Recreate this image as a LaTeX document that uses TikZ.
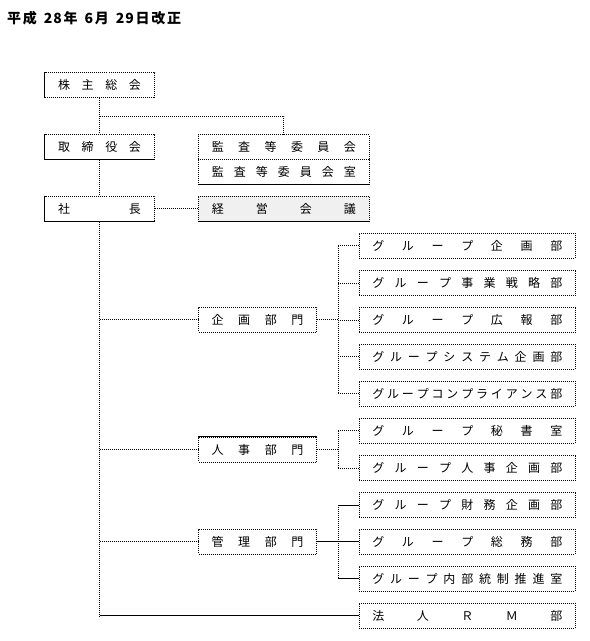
\documentclass[tikz,border=0pt]{standalone}
\usepackage{fontspec}
\setmainfont{Noto Sans CJK JP}
\usetikzlibrary{calc}
\newcommand{\spr}[2]{\makebox[#1][s]{#2}}

\begin{document}
\begin{tikzpicture}[
    x=1pt, y=-1pt,
    box/.style={draw, dash pattern=on 1pt off 1pt, line width=0.8pt, inner sep=0pt, minimum height=25pt, font=\fontsize{12}{12}\selectfont},
    topbox/.style={box, minimum width=110pt},
    midbox/.style={box, minimum width=171pt},
    divbox/.style={box, minimum width=118pt},
    grpbox/.style={box, minimum width=216pt},
    dotline/.style={dash pattern=on 1pt off 1pt, line width=0.8pt},
    solidline/.style={line width=1pt},
  ]
  \useasboundingbox (0,0) rectangle (590,641);
  % Title
  \node[anchor=west, inner sep=0pt, font=\fontsize{14}{14}\selectfont\bfseries] (title) at (7,18)
    {平\hspace{1.7pt}成\hspace{7pt}2\hspace{1pt}8\hspace{1.7pt}年\hspace{7pt}6\hspace{1.7pt}月\hspace{7pt}2\hspace{1pt}9\hspace{1.7pt}日\hspace{1.7pt}改\hspace{1.7pt}正};
  % Top management
  \node[topbox] (kabu) at (99.5,85.2) {\spr{83pt}{株\hfill 主\hfill 総\hfill 会}};
  \node[topbox] (tori) at (99.5,147) {\spr{83pt}{取\hfill 締\hfill 役\hfill 会}};
  \node[topbox] (shacho) at (99.5,208.8) {\spr{83pt}{社\hfill 長}};
  \node[midbox] (kansa) at (283.8,147) {\spr{144pt}{監\hfill 査\hfill 等\hfill 委\hfill 員\hfill 会}};
  \node[midbox] (shitsu) at (283.8,171.8) {\spr{144pt}{監\hfill 査\hfill 等\hfill 委\hfill 員\hfill 会\hfill 室}};
  \node[midbox, fill=black!6] (keiei) at (283.8,208.8) {\spr{144pt}{経\hfill 営\hfill 会\hfill 議}};
  % Divisions
  \node[divbox] (kikaku) at (257.5,319.8) {\spr{92pt}{企\hfill 画\hfill 部\hfill 門}};
  \node[divbox] (jinji) at (257.5,449.5) {\spr{92pt}{人\hfill 事\hfill 部\hfill 門}};
  \node[divbox] (kanri) at (257.5,541.8) {\spr{92pt}{管\hfill 理\hfill 部\hfill 門}};
  % Groups
  \foreach \n/\y/\t in {
      g1/245.8/{グ\hfill ル\hfill ー\hfill プ\hfill 企\hfill 画\hfill 部},
      g2/283.2/{グ\hfill ル\hfill ー\hfill プ\hfill 事\hfill 業\hfill 戦\hfill 略\hfill 部},
      g3/320/{グ\hfill ル\hfill ー\hfill プ\hfill 広\hfill 報\hfill 部},
      g4/356.8/{グ\hfill ル\hfill ー\hfill プ\hfill シ\hfill ス\hfill テ\hfill ム\hfill 企\hfill 画\hfill 部},
      g5/393.8/{グ\hfill ル\hfill ー\hfill プ\hfill コ\hfill ン\hfill プ\hfill ラ\hfill イ\hfill ア\hfill ン\hfill ス\hfill 部},
      h1/430.8/{グ\hfill ル\hfill ー\hfill プ\hfill 秘\hfill 書\hfill 室},
      h2/468.2/{グ\hfill ル\hfill ー\hfill プ\hfill 人\hfill 事\hfill 企\hfill 画\hfill 部},
      k1/505/{グ\hfill ル\hfill ー\hfill プ\hfill 財\hfill 務\hfill 企\hfill 画\hfill 部},
      k2/541.8/{グ\hfill ル\hfill ー\hfill プ\hfill 総\hfill 務\hfill 部},
      k3/578.8/{グ\hfill ル\hfill ー\hfill プ\hfill 内\hfill 部\hfill 統\hfill 制\hfill 推\hfill 進\hfill 室},
      rm/615.8/{法\hfill 人\hfill Ｒ\hfill Ｍ\hfill 部}} {
    \node[grpbox] (\n) at (467.3,\y) {\spr{190pt}{\t}};
  }
  % Solid box edges
  \draw[solidline] (kabu.north west) -- (kabu.south west);
  \draw[solidline] (tori.north west) -- (tori.south west) -- (tori.south east);
  \draw[solidline] (shacho.north west) -- (shacho.south west) -- (shacho.south east);
  \draw[solidline] (shitsu.south west) -- (shitsu.south east);
  \draw[solidline] (keiei.south west) -- (keiei.south east);
  \draw[solidline] (jinji.north west) -- (jinji.north east);
  % Upper links
  \draw[dotline] (kabu.south) -- (tori.north);
  \draw[dotline] ($(kabu.south)!0.5!(tori.north)$) -| (kansa.north);
  \draw[dotline] (tori.south) -- (shacho.north);
  \draw[dotline] (shacho.east) -- (keiei.west);
  % Trunk
  \draw[dotline] (shacho.south) -- (shacho.south |- rm.west);
  \draw[solidline] (shacho.south |- rm.west) -- (rm.west);
  \foreach \d in {kikaku, jinji, kanri} {
    \draw[dotline] (shacho.south |- \d.west) -- (\d.west);
  }
  % Group buses
  \coordinate (bx) at (338,0);
  \draw[dotline] (kikaku.east) -- (kikaku.east -| bx);
  \draw[dotline] (g1.west -| bx) -- (g5.west -| bx);
  \foreach \g in {g1,g2,g3,g4,g5} {
    \draw[dotline] (\g.west -| bx) -- (\g.west);
  }
  \draw[dotline] (jinji.east) -- (jinji.east -| bx);
  \draw[dotline] (h1.west -| bx) -- (h2.west -| bx);
  \foreach \g in {h1,h2} {
    \draw[dotline] (\g.west -| bx) -- (\g.west);
  }
  \draw[solidline] (kanri.east) -- (kanri.east -| bx);
  \draw[dotline] (k1.west -| bx) -- (k3.west -| bx);
  \foreach \g in {k1,k2,k3} {
    \draw[solidline] (\g.west -| bx) -- (\g.west);
  }
\end{tikzpicture}
\end{document}
